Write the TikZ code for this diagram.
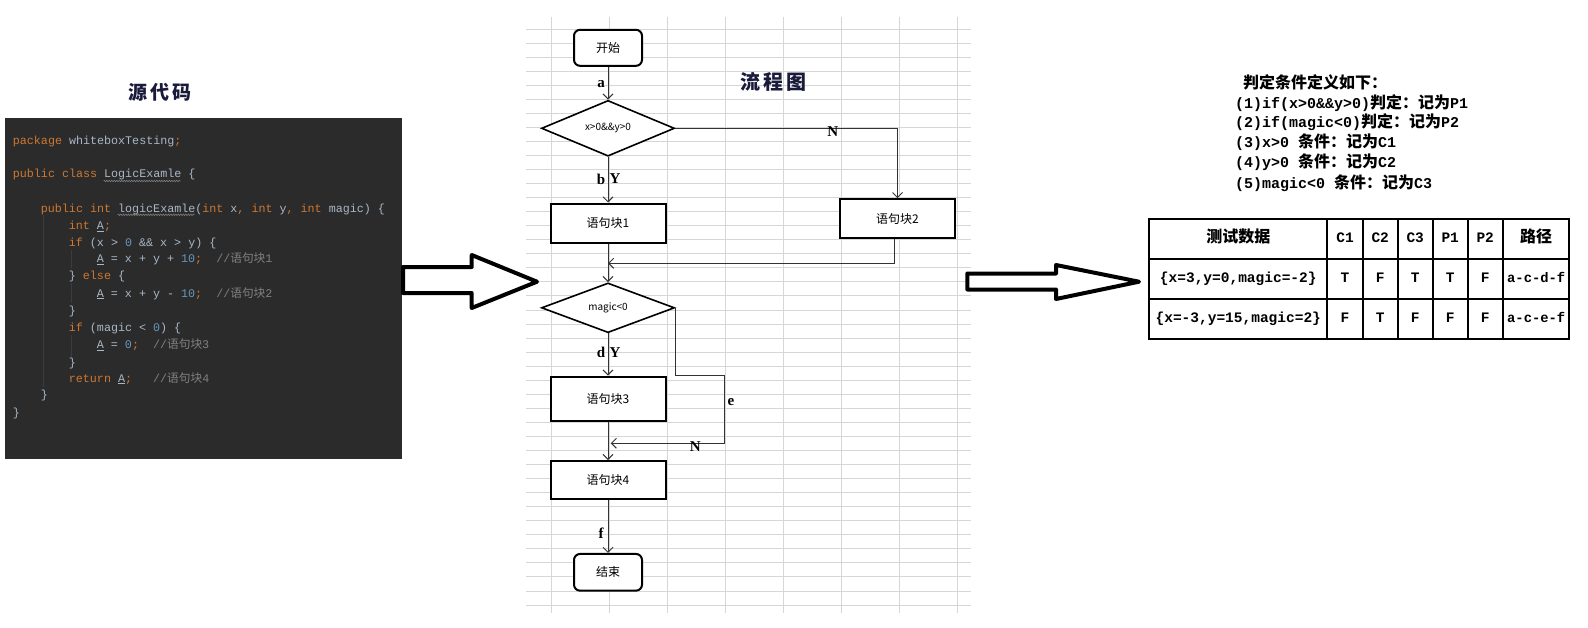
\documentclass[tikz,border=0pt]{standalone}
\usepackage{fontspec}
\setmainfont{Liberation Serif}
\setmonofont{Liberation Mono}
\newfontfamily\cjk{Noto Sans CJK SC}
\usetikzlibrary{shapes.geometric,arrows.meta,decorations.pathmorphing}
\definecolor{codebg}{HTML}{2B2B2B}
\definecolor{codefg}{HTML}{A9B7C6}
\definecolor{codekw}{HTML}{CC7832}
\definecolor{codenum}{HTML}{6897BB}
\definecolor{codecm}{HTML}{808080}
\definecolor{codeguide}{HTML}{3C3C3C}
\definecolor{gridgray}{HTML}{D6D6D6}
\definecolor{titlec}{HTML}{1A1A3A}
\newcommand{\fsz}[1]{\fontsize{#1}{#1}\selectfont}
\newcommand{\ckw}[1]{\textcolor{codekw}{#1}}
\newcommand{\cnum}[1]{\textcolor{codenum}{#1}}
\newcommand{\ccom}[1]{\textcolor{codecm}{#1}}
\newcommand{\zh}[1]{{\cjk #1}}
\newcommand{\zhc}[1]{{\cjk\fsz{16}#1}}
\begin{document}
\begin{tikzpicture}[x=1pt,y=-1pt,
  box/.style={draw=black, line width=2pt, fill=white, minimum width=115pt, minimum height=39pt, inner sep=0pt, font=\cjk\fsz{12}},
  term/.style={box, rounded corners=6pt, minimum width=68pt, minimum height=36pt},
  dec/.style={diamond, draw=black, line width=1.6pt, fill=white, minimum width=133pt, minimum height=43pt, inner sep=0pt, font=\cjk\fsz{10}},
  arr/.style={draw=black!80, line width=1pt, -{Straight Barb[length=5pt,width=10pt]}},
  lbl/.style={font=\bfseries\fsz{15}, inner sep=0pt},
  code/.style={anchor=west, inner sep=0pt, text height=8pt, text depth=2.5pt, font=\ttfamily\fsz{11.7}, text=codefg},
  cond/.style={anchor=west, inner sep=0pt, text height=11pt, text depth=3pt, font=\ttfamily\bfseries\fsz{15}},
  tcell/.style={inner sep=0pt, text height=10pt, text depth=3pt, font=\ttfamily\bfseries\fsz{14.5}},
  gridline/.style={draw=gridgray, line width=1pt},
  bigarr/.style={draw=black, fill=white, line width=4pt, line join=round},
  wavy/.style={draw=codecm, line width=0.6pt, decorate, decoration={zigzag, amplitude=0.7pt, segment length=2.5pt}},
  tbl/.style={draw=black, line width=1.8pt}
]
\fill[white] (0,0) rectangle (1588,627);
\useasboundingbox (0,0) rectangle (1588,627);

% ---------- grid behind the flowchart ----------
\foreach \i in {0,...,41} \draw[gridline] (526,29+14.05*\i) -- (971,29+14.05*\i);
\foreach \x in {551,609,...,957} \draw[gridline] (\x,17) -- (\x,613);

% ---------- source code ----------
\node[font=\cjk\bfseries\fsz{19}, text=titlec] (srctitle) at (160,92.7) {源\hspace{3pt}代\hspace{3pt}码};
\fill[codebg] (5,117.5) rectangle (402,459);
\draw[codeguide, line width=0.8pt] (43.3,215) -- (43.3,387);
\draw[codeguide, line width=0.8pt] (71,250) -- (71,268);
\draw[codeguide, line width=0.8pt] (71,283) -- (71,303);
\draw[codeguide, line width=0.8pt] (71,335) -- (71,357);
\node[code] (l1) at (12.7,141.7) {\ckw{package} whiteboxTesting\ckw{;}};
\node[code] (l2) at (12.7,175) {\ckw{public class} LogicExamle \{};
\node[code] (l3) at (40.7,209.3) {\ckw{public int} logicExamle(\ckw{int} x\ckw{,} \ckw{int} y\ckw{,} \ckw{int} magic) \{};
\node[code] (l4) at (68.7,226.7) {\ckw{int} \underline{A}\ckw{;}};
\node[code] (l5) at (68.7,243.3) {\ckw{if} (x > \cnum{0} \&\& x > y) \{};
\node[code] (l6) at (96.7,260) {\underline{A} = x + y + \cnum{10}\ckw{;}\ \ \ccom{//\zh{语句块}1}};
\node[code] (l7) at (68.7,276.7) {\} \ckw{else} \{};
\node[code] (l8) at (96.7,294.3) {\underline{A} = x + y - \cnum{10}\ckw{;}\ \ \ccom{//\zh{语句块}2}};
\node[code] (l9) at (68.7,311.7) {\}};
\node[code] (l10) at (68.7,328.3) {\ckw{if} (magic < \cnum{0}) \{};
\node[code] (l11) at (96.7,345.7) {\underline{A} = \cnum{0}\ckw{;}\ \ \ccom{//\zh{语句块}3}};
\node[code] (l12) at (68.7,363.3) {\}};
\node[code] (l13) at (68.7,379.3) {\ckw{return} \underline{A}\ckw{;}\ \ \ \ccom{//\zh{语句块}4}};
\node[code] (l14) at (40.7,396) {\}};
\node[code] (l15) at (12.7,413.3) {\}};
\draw[wavy] (103.7,181) -- (180.7,181);
\draw[wavy] (117.7,214.8) -- (194.7,214.8);

% ---------- big arrows ----------
\draw[bigarr] (403,267) -- (471.7,267) -- (471.7,255) -- (537,281.7) -- (471.7,308) -- (471.7,293) -- (403,293) -- cycle;
\draw[bigarr] (967.3,273.5) -- (1056,273.5) -- (1056,265) -- (1139,281.7) -- (1056,299) -- (1056,289.5) -- (967.3,289.5) -- cycle;

% ---------- flowchart ----------
\node[font=\cjk\bfseries\fsz{20}, text=titlec] (fctitle) at (773.3,81.7) {流\hspace{3pt}程\hspace{3pt}图};
\node[term] (start) at (608,47.8) {开始};
\node[dec, minimum height=43.3pt] (d1) at (608,128.3) {x>0\&\&y>0};
\node[box] (b1) at (608,223) {语句块1};
\node[box] (b2) at (897.5,218.7) {语句块2};
\node[dec, minimum height=37.7pt] (d2) at (608,307.8) {magic<0};
\node[box, minimum height=44.3pt] (b3) at (608,398.8) {语句块3};
\node[box, minimum height=38pt] (b4) at (608,480) {语句块4};
\node[term, minimum height=36.7pt] (stop) at (608,572.3) {结束};

\coordinate (m1) at (608,263.3);
\coordinate (k1) at (724.3,375.7);
\coordinate (m2) at (610.7,443.3);

\draw[arr] (start) -- (d1);
\draw[arr] (d1) -- (b1);
\draw[arr] (d1.east) -| (b2.north);
\draw[arr] ([xshift=-3pt]b2.south) |- (m1);
\draw[arr] (b1) -- (d2);
\draw[arr] (d2) -- (b3);
\draw[arr] (d2.east) |- (k1) |- (m2);
\draw[arr] (b3) -- (b4);
\draw[arr] (b4) -- (stop);

\node[lbl] (la) at (601,84) {a};
\node[lbl] (lb) at (601,179) {b};
\node[lbl] (ly1) at (615,179) {Y};
\node[lbl] (ln1) at (832.7,131.7) {N};
\node[lbl] (ld) at (601,352.3) {d};
\node[lbl] (ly2) at (615,352.3) {Y};
\node[lbl] (le) at (731,402.3) {e};
\node[lbl] (ln2) at (695.3,446.7) {N};
\node[lbl] (lf) at (601,533.3) {f};

% ---------- conditions ----------
\node[cond] (p0) at (1243,84) {\zhc{判定条件定义如下：}};
\node[cond] (p1) at (1235,104.3) {(1)if(x>0\&\&y>0)\zhc{判定：记为}P1};
\node[cond] (p2) at (1235,123.8) {(2)if(magic<0)\zhc{判定：记为}P2};
\node[cond] (p3) at (1235,143.6) {(3)x>0 \zhc{条件：记为}C1};
\node[cond] (p4) at (1235,163.6) {(4)y>0 \zhc{条件：记为}C2};
\node[cond] (p5) at (1235,184) {(5)magic<0 \zhc{条件：记为}C3};

% ---------- table ----------
\draw[tbl] (1149.3,219.3) rectangle (1569.3,339.3);
\draw[tbl] (1149.3,259.3) -- (1569.3,259.3);
\draw[tbl] (1149.3,299.3) -- (1569.3,299.3);
\foreach \x in {1327.3,1362.7,1397.7,1432.7,1467.7,1502.7} \draw[tbl] (\x,219.3) -- (\x,339.3);

\node[tcell] (h0) at (1238.3,239.3) {\zhc{测试数据}};
\node[tcell] (h1) at (1345,239.3) {C1};
\node[tcell] (h2) at (1380.2,239.3) {C2};
\node[tcell] (h3) at (1415.2,239.3) {C3};
\node[tcell] (h4) at (1450.2,239.3) {P1};
\node[tcell] (h5) at (1485.2,239.3) {P2};
\node[tcell] (h6) at (1536,239.3) {\zhc{路径}};

\node[tcell] (r10) at (1238.3,279.3) {\{x=3,y=0,magic=-2\}};
\node[tcell] (r11) at (1345,279.3) {T};
\node[tcell] (r12) at (1380.2,279.3) {F};
\node[tcell] (r13) at (1415.2,279.3) {T};
\node[tcell] (r14) at (1450.2,279.3) {T};
\node[tcell] (r15) at (1485.2,279.3) {F};
\node[tcell, anchor=west, font=\ttfamily\bfseries\fsz{13.8}] (r16) at (1507,279.3) {a-c-d-f};

\node[tcell] (r20) at (1238.3,319.3) {\{x=-3,y=15,magic=2\}};
\node[tcell] (r21) at (1345,319.3) {F};
\node[tcell] (r22) at (1380.2,319.3) {T};
\node[tcell] (r23) at (1415.2,319.3) {F};
\node[tcell] (r24) at (1450.2,319.3) {F};
\node[tcell] (r25) at (1485.2,319.3) {F};
\node[tcell, anchor=west, font=\ttfamily\bfseries\fsz{13.8}] (r26) at (1507,319.3) {a-c-e-f};
\end{tikzpicture}
\end{document}
